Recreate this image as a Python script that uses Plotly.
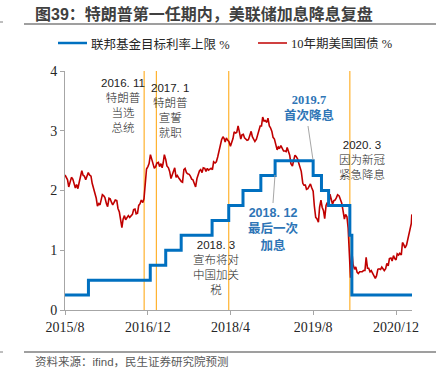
import plotly.graph_objects as go
import pandas as pd

# ---------------- data ----------------
fed_dates = ["2015-08-01", "2015-12-17", "2016-12-15", "2017-03-16", "2017-06-15",
             "2017-12-14", "2018-03-22", "2018-06-14", "2018-09-27", "2018-12-20",
             "2019-08-01", "2019-09-19", "2019-10-31", "2020-03-04", "2020-03-16",
             "2021-03-05"]
fed_upper = [0.25, 0.5, 0.75, 1.0, 1.25, 1.5, 1.75, 2.0, 2.25, 2.5,
             2.25, 2.0, 1.75, 1.25, 0.25, 0.25]

t10_months = ["2015-08", "2015-09", "2015-10", "2015-11", "2015-12",
              "2016-01", "2016-02", "2016-03", "2016-04", "2016-05", "2016-06",
              "2016-07", "2016-08", "2016-09", "2016-10", "2016-11", "2016-12",
              "2017-01", "2017-02", "2017-03", "2017-04", "2017-05", "2017-06",
              "2017-07", "2017-08", "2017-09", "2017-10", "2017-11", "2017-12",
              "2018-01", "2018-02", "2018-03", "2018-04", "2018-05", "2018-06",
              "2018-07", "2018-08", "2018-09", "2018-10", "2018-11", "2018-12",
              "2019-01", "2019-02", "2019-03", "2019-04", "2019-05", "2019-06",
              "2019-07", "2019-08", "2019-09", "2019-10", "2019-11", "2019-12",
              "2020-01", "2020-02", "2020-03", "2020-04", "2020-05", "2020-06",
              "2020-07", "2020-08", "2020-09", "2020-10", "2020-11", "2020-12",
              "2021-01", "2021-02"]
t10_days = [1, 8, 16, 23]
t10_values = [
    [2.26, 2.22, 2.18, 2.06], [2.17, 2.22, 2.19, 2.10], [2.04, 2.10, 2.03, 2.13],
    [2.28, 2.33, 2.25, 2.24], [2.18, 2.23, 2.30, 2.26],
    [2.24, 2.12, 2.03, 2.00], [1.87, 1.74, 1.78, 1.76], [1.83, 1.93, 1.91, 1.88],
    [1.78, 1.73, 1.87, 1.86], [1.80, 1.76, 1.80, 1.84], [1.83, 1.70, 1.64, 1.48],
    [1.38, 1.52, 1.58, 1.51], [1.54, 1.58, 1.55, 1.58], [1.60, 1.68, 1.69, 1.61],
    [1.62, 1.75, 1.78, 1.84], [1.80, 1.86, 2.22, 2.36], [2.40, 2.45, 2.60, 2.54],
    [2.45, 2.37, 2.40, 2.46], [2.47, 2.40, 2.45, 2.38], [2.46, 2.60, 2.52, 2.41],
    [2.38, 2.32, 2.20, 2.27], [2.32, 2.38, 2.22, 2.25], [2.21, 2.18, 2.15, 2.14],
    [2.35, 2.37, 2.30, 2.28], [2.27, 2.24, 2.19, 2.18], [2.12, 2.06, 2.20, 2.27],
    [2.33, 2.35, 2.30, 2.38], [2.37, 2.32, 2.37, 2.34], [2.36, 2.37, 2.35, 2.48],
    [2.46, 2.48, 2.56, 2.65], [2.78, 2.85, 2.90, 2.87], [2.81, 2.88, 2.84, 2.82],
    [2.74, 2.79, 2.87, 2.98], [2.96, 2.97, 3.08, 2.99], [2.86, 2.93, 2.94, 2.88],
    [2.85, 2.84, 2.85, 2.93], [2.99, 2.90, 2.86, 2.82], [2.86, 2.94, 3.00, 3.08],
    [3.08, 3.23, 3.16, 3.17], [3.14, 3.21, 3.08, 3.05], [2.99, 2.89, 2.86, 2.79],
    [2.68, 2.73, 2.71, 2.75], [2.70, 2.66, 2.66, 2.65], [2.72, 2.64, 2.59, 2.45],
    [2.41, 2.50, 2.59, 2.57], [2.53, 2.46, 2.40, 2.32], [2.12, 2.09, 2.09, 2.02],
    [2.03, 2.06, 2.11, 2.05], [1.99, 1.74, 1.55, 1.53], [1.47, 1.72, 1.84, 1.72],
    [1.66, 1.53, 1.75, 1.80], [1.73, 1.94, 1.83, 1.77], [1.83, 1.84, 1.88, 1.93],
    [1.91, 1.85, 1.79, 1.68], [1.52, 1.60, 1.56, 1.37], [1.02, 0.54, 0.98, 0.76],
    [0.68, 0.72, 0.63, 0.61], [0.64, 0.64, 0.64, 0.66], [0.66, 0.88, 0.70, 0.70],
    [0.64, 0.66, 0.61, 0.59], [0.53, 0.57, 0.68, 0.69], [0.68, 0.72, 0.69, 0.66],
    [0.69, 0.78, 0.74, 0.86], [0.87, 0.82, 0.91, 0.86], [0.84, 0.94, 0.92, 0.95],
    [0.92, 1.13, 1.09, 1.04], [1.09, 1.17, 1.30, 1.37],
]
t10_tail_dates = ["2021-03-01", "2021-03-04"]
t10_tail_values = [1.45, 1.60]

event_dates = ["2016-11-09", "2017-01-20", "2018-03-22", "2020-03-04"]

tick_dates = ["2015-08-01", "2016-12-01", "2018-04-01", "2019-08-01", "2020-12-01"]
tick_labels = ["2015/8", "2016/12", "2018/4", "2019/8", "2020/12"]

legend_names = ["联邦基金目标利率上限 %", "10年期美国国债 %"]
title_text = "图39：特朗普第一任期内，美联储加息降息复盘"
source_text = "资料来源：ifind，民生证券研究院预测"

# build treasury series
t10_x, t10_y = [], []
for m, vals in zip(t10_months, t10_values):
    for d, v in zip(t10_days, vals):
        t10_x.append(f"{m}-{d:02d}")
        t10_y.append(v)
t10_x += t10_tail_dates
t10_y += t10_tail_values

BLUE = "#0070C0"
RED = "#C00000"
ORANGE = "#FFB22E"
ANN_BLUE = "#2E75B6"
SANS = "Liberation Sans, Noto Sans CJK SC, sans-serif"
SERIF = "Liberation Serif, Noto Sans CJK SC, serif"

# pixel geometry helpers (plot area 65..412 x, 71..310 y)
L, R, T, B = 65, 412, 71, 310
W, H = 438, 375
def px(x):
    return (x - L) / (R - L)
def py(y):
    return (B - y) / (B - T)

fig = go.Figure()
fig.add_trace(go.Scatter(x=t10_x, y=t10_y, mode="lines", name=legend_names[1],
                         line=dict(color=RED, width=1.6), showlegend=False))
fig.add_trace(go.Scatter(x=fed_dates, y=fed_upper, mode="lines", name=legend_names[0],
                         line=dict(color=BLUE, width=3, shape="hv"), showlegend=False))

shapes = []
for d in event_dates:
    shapes.append(dict(type="line", xref="x", yref="y", x0=d, x1=d, y0=0, y1=4,
                       line=dict(color=ORANGE, width=1.2), layer="below"))
# title underline and source line
shapes.append(dict(type="line", xref="paper", yref="paper", x0=px(24), x1=px(436),
                   y0=py(24), y1=py(24), line=dict(color="#7f7f7f", width=1.5)))
shapes.append(dict(type="line", xref="paper", yref="paper", x0=px(24), x1=px(436),
                   y0=py(352), y1=py(352), line=dict(color="#7f7f7f", width=1.5)))
# left-edge small marks
for yy in (22, 352):
    shapes.append(dict(type="line", xref="paper", yref="paper", x0=px(0), x1=px(3),
                       y0=py(yy), y1=py(yy), line=dict(color="#7f7f7f", width=1)))
# legend lines
shapes.append(dict(type="line", xref="paper", yref="paper", x0=px(58), x1=px(87),
                   y0=py(43), y1=py(43), line=dict(color=BLUE, width=2.5)))
shapes.append(dict(type="line", xref="paper", yref="paper", x0=px(258), x1=px(287),
                   y0=py(43), y1=py(43), line=dict(color=RED, width=1.5)))
# leader lines
shapes.append(dict(type="line", xref="paper", yref="paper", x0=px(308), x1=px(313),
                   y0=py(126), y1=py(160), line=dict(color="#a6a6a6", width=1)))
shapes.append(dict(type="line", xref="paper", yref="paper", x0=px(273), x1=px(275),
                   y0=py(203), y1=py(175), line=dict(color="#a6a6a6", width=1)))

anns = []
def ann(x, y, text, size=11.5, color="#222222", family=SANS, xanchor="center",
        yanchor="top", align="center", weight=None):
    f = dict(size=size, color=color, family=family)
    if weight is not None:
        f["weight"] = weight
    anns.append(dict(xref="paper", yref="paper", x=px(x), y=py(y), text=text,
                     showarrow=False, xanchor=xanchor, yanchor=yanchor, align=align,
                     font=f))

ann(33, 14, "<b>" + title_text + "</b>", size=16, color="#404040", xanchor="left",
    yanchor="middle")
ann(89, 44, legend_names[0], size=12.5, color="#262626", family=SERIF,
    xanchor="left", yanchor="middle")
ann(289, 44, legend_names[1], size=12.5, color="#262626", family=SERIF,
    xanchor="left", yanchor="middle")
ann(33, 361, source_text, size=11.5, color="#595959", xanchor="left", yanchor="middle")

ann(123, 75, "2016. 11<br>特朗普<br>当选<br>总统", weight=300)
ann(170, 80, "2017. 1<br>特朗普<br>宣誓<br>就职", weight=300)
ann(216, 237, "2018. 3<br>宣布将对<br>中国加关<br>税", weight=300)
ann(362, 137, "2020. 3<br>因为新冠<br>紧急降息", weight=300)
ann(309, 91, "<b>2019.7<br>首次降息</b>", size=12.5, color=ANN_BLUE,
    family="Liberation Serif, Noto Sans CJK SC, serif")
ann(273, 204, "<b>2018. 12<br>最后一次<br>加息</b>", size=12.5, color=ANN_BLUE)

fig.update_layout(
    width=W, height=H,
    margin=dict(l=L, r=W - R, t=T, b=H - B, pad=0),
    paper_bgcolor="white", plot_bgcolor="white",
    showlegend=False,
    shapes=shapes, annotations=anns,
    xaxis=dict(type="date", range=["2015-08-01", "2021-03-05"],
               tickvals=tick_dates, ticktext=tick_labels,
               showgrid=False, zeroline=False,
               showline=True, linecolor="#a6a6a6", linewidth=1,
               ticks="outside", ticklen=4, tickcolor="#a6a6a6",
               tickfont=dict(family="Liberation Serif, serif", size=14, color="#262626")),
    yaxis=dict(range=[0, 4], tickvals=[0, 1, 2, 3, 4],
               showgrid=False, zeroline=False,
               showline=True, linecolor="#a6a6a6", linewidth=1,
               ticks="outside", ticklen=4, tickcolor="#a6a6a6",
               tickfont=dict(family="Liberation Serif, serif", size=14, color="#262626")),
)

fig.write_html("out.html", config={"displayModeBar": False},
               post_script="document.body.style.margin='0px';")
